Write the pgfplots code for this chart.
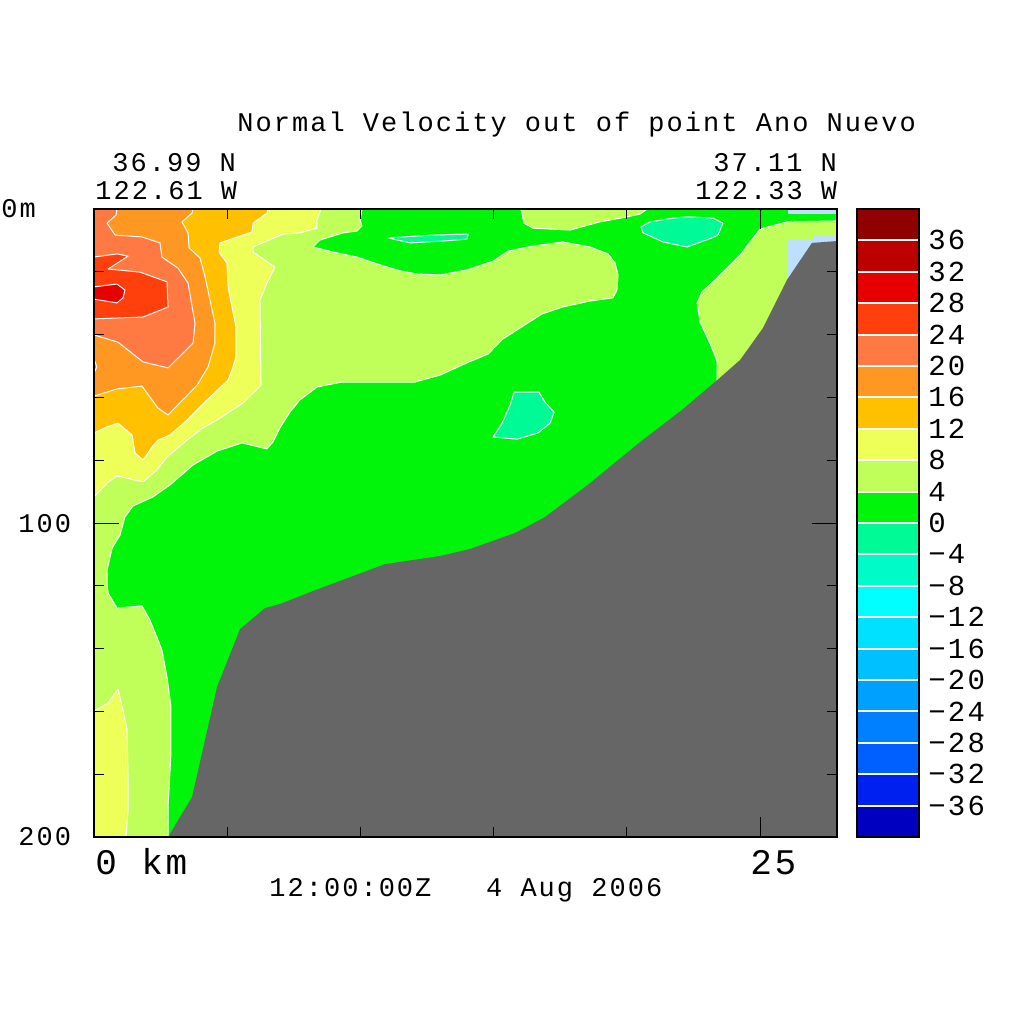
\documentclass[border=0pt]{standalone}
\usepackage{fontspec}
\setmainfont{Liberation Mono}[LetterSpace=7.5]
\usepackage{pgfplots}
\pgfplotsset{compat=1.18}
\definecolor{c36}{HTML}{900000}
\definecolor{c32}{HTML}{BC0000}
\definecolor{c28}{HTML}{E60000}
\definecolor{c24}{HTML}{FF3F0C}
\definecolor{c20}{HTML}{FF7A42}
\definecolor{c16}{HTML}{FF9822}
\definecolor{c12}{HTML}{FFC000}
\definecolor{c8}{HTML}{EFFF5A}
\definecolor{c4}{HTML}{C0FF5A}
\definecolor{c0}{HTML}{00F50A}
\definecolor{m4}{HTML}{00FA96}
\definecolor{m8}{HTML}{00FAC8}
\definecolor{m12}{HTML}{00FFFF}
\definecolor{m16}{HTML}{00E0FF}
\definecolor{m20}{HTML}{00C0FF}
\definecolor{m24}{HTML}{00A0FF}
\definecolor{m28}{HTML}{0080FF}
\definecolor{m32}{HTML}{0060FF}
\definecolor{m36}{HTML}{0020F0}
\definecolor{m40}{HTML}{0000C0}
\definecolor{terrain}{HTML}{666666}
\definecolor{paleblue}{HTML}{BFDFFF}
\newcommand\fa{\fontsize{13.5}{13.5}\selectfont}
\newcommand\fb{\fontsize{14.5}{14.5}\selectfont}
\newcommand\fc{\fontsize{18}{18}\selectfont}
\pgfplotsset{
  lev/.style={fill=#1,draw=white,line width=0.5pt,line join=round},
  flat/.style={fill=#1,draw=none},
  bar/.style={fill=#1,draw=white,line width=1pt}
}
\begin{document}
\begin{tikzpicture}
\useasboundingbox (0,0) rectangle (512pt,512pt);
\begin{axis}[
  at={(47pt,93.5pt)},anchor=south west,
  scale only axis,width=371.5pt,height=314pt,
  xmin=0,xmax=27.89,ymin=0,ymax=200,y dir=reverse,
  axis on top,
  axis line style={line width=1pt},
  tick style={black,line width=0.5pt},
  tick align=inside,tick pos=both,
  major tick length=5pt,
  xtick={5,10,15,20},ytick={20,40,60,80,120,140,160,180},
  xticklabels={},yticklabels={},
  extra x ticks={25},extra x tick labels={},
  extra x tick style={major tick length=10pt},
  extra y ticks={100},extra y tick labels={},
  extra y tick style={major tick length=12.5pt},
]
% base level 0..4
\addplot[flat=c0] coordinates {(0,0)(27.89,0)(27.89,200)(0,200)} --cycle;
% 4..8 main
\addplot[lev=c4] coordinates {(10.06,0)(9.99,3.5)(10.06,5.4)(9.87,7.0)(9.35,7.6)(8.48,9.9)(8.22,12.1)(8.97,13.7)(9.87,15.3)(10.74,17.8)(11.49,19.7)(12.12,20.7)(12.99,21.0)(14.00,19.4)(14.98,16.6)(15.54,13.4)(16.48,11.8)(17.60,10.5)(18.62,12.1)(19.29,14.3)(19.56,17.2)(19.67,21.0)(19.63,25.8)(19.48,28.3)(18.62,29.3)(17.60,31.2)(16.82,33.4)(15.99,37.9)(15.35,41.4)(14.79,46.2)(14.00,49.0)(12.99,52.9)(12.05,55.1)(9.31,55.1)(8.37,56.7)(7.73,60.8)(7.36,64.6)(6.98,69.7)(6.72,74.2)(6.49,76.4)(5.56,74.5)(4.62,77.1)(3.72,81.5)(2.85,87.9)(2.21,91.7)(1.46,94.6)(1.16,98.1)(0.98,103.8)(0.68,108.0)(0.49,115.0)(0.49,119.1)(0.53,122.3)(0.86,127.1)(1.80,126.4)(2.10,130.9)(2.55,140.4)(2.74,149.0)(2.89,158.6)(2.89,173.2)(2.78,190.4)(2.78,200)(0,200)(0,0)} --cycle;
% 4..8 top
\addplot[lev=c4] coordinates {(16.03,0)(16.14,4.5)(16.48,6.1)(17.87,6.7)(18.99,4.1)(20.01,2.5)(20.50,1.6)(20.76,0)} --cycle;
% 4..8 right
\addplot[lev=c4] coordinates {(23.39,60.8)(23.39,48.4)(23.12,42.7)(22.75,36.0)(22.64,29.9)(22.82,26.4)(23.31,22.6)(24.25,14.7)(25.00,6.4)(26.01,4.1)(27.89,3.8)(27.89,60.8)} --cycle;
% 8..12
\addplot[lev=c8] coordinates {(8.52,0)(8.37,3.5)(8.37,6.1)(7.73,7.6)(7.09,8.0)(5.97,12.1)(5.97,13.7)(6.79,18.5)(6.49,23.6)(6.23,29.0)(6.27,56.1)(5.97,58.6)(5.59,61.8)(4.62,67.2)(4.09,69.7)(3.49,73.6)(2.74,79.0)(2.36,83.1)(1.84,86.9)(0.86,85.0)(0.49,87.3)(0,91.7)(0,0)} --cycle;
\addplot[lev=c8] coordinates {(0,159.9)(0.53,157.3)(0.90,152.9)(1.09,159.6)(1.24,165.9)(1.28,181.8)(1.28,191.4)(1.20,200)(0,200)} --cycle;
% 12..16
\addplot[lev=c12] coordinates {(6.53,0)(6.49,1.3)(5.97,4.5)(5.93,7.3)(4.73,10.8)(4.69,13.7)(4.99,17.2)(5.03,24.8)(5.33,37.6)(5.33,47.1)(5.18,51.3)(5.03,54.5)(4.24,60.8)(3.49,67.2)(2.85,72.0)(2.40,73.6)(2.18,75.8)(1.84,79.9)(1.54,77.7)(1.43,72.0)(0.90,68.2)(0.49,69.4)(0,71.3)(0,0)} --cycle;
% 16..20
\addplot[lev=c16] coordinates {(3.72,0)(3.68,1.3)(3.30,4.1)(3.53,7.6)(3.57,12.4)(3.98,15.6)(4.17,21.7)(4.54,36.3)(4.54,42.7)(4.28,50.3)(3.87,56.1)(2.78,65.6)(2.40,63.4)(1.80,56.4)(0.86,57.3)(0,59.6)(0,0)} --cycle;
% 20..24
\addplot[lev=c20] coordinates {(0.86,0)(0.83,1.9)(0.49,4.5)(0.79,8.3)(1.80,8.9)(2.48,10.8)(2.55,15.3)(3.15,18.8)(3.53,23.6)(3.79,36.3)(3.72,42.7)(2.78,50.6)(1.84,48.7)(0.90,42.4)(0,40.1)(0,0)} --cycle;
\addplot[lev=c20] coordinates {(0,47.8)(0.11,50.3)(0,52.2)} --cycle;
% 24..28
\addplot[lev=c24] coordinates {(0,15.3)(0.86,14.3)(1.28,15.0)(0.53,19.1)(1.73,20.1)(2.74,23.2)(2.78,31.2)(1.84,34.4)(0,35.0)} --cycle;
% 28..32
\addplot[lev=c28] coordinates {(0,24.8)(0.86,23.9)(1.16,25.8)(1.09,28.3)(0.86,29.9)(0,28.7)} --cycle;
% -4..0
\addplot[lev=m4] coordinates {(20.53,5.7)(20.87,4.1)(21.73,2.9)(22.30,2.5)(23.24,2.9)(23.61,4.5)(23.42,8.3)(23.20,9.2)(22.26,12.1)(21.36,10.5)(20.61,7.6)} --cycle;
\addplot[lev=m4] coordinates {(11.04,9.2)(12.73,8.3)(14.04,8.0)(14.00,9.6)(13.10,10.2)(11.86,10.8)} --cycle;
\addplot[lev=m4] coordinates {(15.77,58.3)(16.70,58.3)(16.93,61.5)(17.27,64.7)(17.12,68.2)(16.67,71.3)(15.88,73.3)(14.98,72.6)(15.32,68.2)(15.62,62.4)} --cycle;
% pale blue (near-shore cells)
\addplot[flat=paleblue] coordinates {(26.05,0)(27.89,0)(27.89,1.6)(26.05,1.6)} --cycle;
\addplot[flat=paleblue] coordinates {(26.05,9.6)(26.99,9.6)(26.99,8.3)(27.89,8.3)(27.89,25.8)(26.05,25.8)} --cycle;
% terrain
\addplot[flat=terrain] coordinates {(2.78,200)(3.68,187.3)(4.62,152.2)(5.48,133.8)(6.42,127.1)(6.98,125.8)(8.33,121.3)(10.92,113.1)(12.99,110.5)(14.11,108.3)(15.80,103.2)(16.93,98.1)(18.62,87.3)(20.50,74.2)(22.07,64.0)(23.39,54.5)(24.25,48.1)(25.11,37.9)(26.01,22.6)(26.95,10.8)(27.89,10.2)(27.89,200)} --cycle;
\end{axis}
\begin{axis}[
  at={(428.5pt,93.5pt)},anchor=south west,
  scale only axis,width=31pt,height=314pt,
  xmin=0,xmax=1,ymin=-40,ymax=40,
  axis on top,
  axis line style={line width=1pt},
  xtick=\empty,
  ytick={-36,-32,-28,-24,-20,-16,-12,-8,-4,0,4,8,12,16,20,24,28,32,36},
  yticklabels={−36,−32,−28,−24,−20,−16,−12,−8,−4,0,4,8,12,16,20,24,28,32,36},
  tick pos=right,yticklabel pos=right,
  major tick length=0pt,
  yticklabel style={anchor=west,inner sep=0pt,xshift=4.5pt,font=\fb},
]
\addplot[bar=c36] coordinates {(0,36)(1,36)(1,40)(0,40)} --cycle;
\addplot[bar=c32] coordinates {(0,32)(1,32)(1,36)(0,36)} --cycle;
\addplot[bar=c28] coordinates {(0,28)(1,28)(1,32)(0,32)} --cycle;
\addplot[bar=c24] coordinates {(0,24)(1,24)(1,28)(0,28)} --cycle;
\addplot[bar=c20] coordinates {(0,20)(1,20)(1,24)(0,24)} --cycle;
\addplot[bar=c16] coordinates {(0,16)(1,16)(1,20)(0,20)} --cycle;
\addplot[bar=c12] coordinates {(0,12)(1,12)(1,16)(0,16)} --cycle;
\addplot[bar=c8] coordinates {(0,8)(1,8)(1,12)(0,12)} --cycle;
\addplot[bar=c4] coordinates {(0,4)(1,4)(1,8)(0,8)} --cycle;
\addplot[bar=c0] coordinates {(0,0)(1,0)(1,4)(0,4)} --cycle;
\addplot[bar=m4] coordinates {(0,-4)(1,-4)(1,0)(0,0)} --cycle;
\addplot[bar=m8] coordinates {(0,-8)(1,-8)(1,-4)(0,-4)} --cycle;
\addplot[bar=m12] coordinates {(0,-12)(1,-12)(1,-8)(0,-8)} --cycle;
\addplot[bar=m16] coordinates {(0,-16)(1,-16)(1,-12)(0,-12)} --cycle;
\addplot[bar=m20] coordinates {(0,-20)(1,-20)(1,-16)(0,-16)} --cycle;
\addplot[bar=m24] coordinates {(0,-24)(1,-24)(1,-20)(0,-20)} --cycle;
\addplot[bar=m28] coordinates {(0,-28)(1,-28)(1,-24)(0,-24)} --cycle;
\addplot[bar=m32] coordinates {(0,-32)(1,-32)(1,-28)(0,-28)} --cycle;
\addplot[bar=m36] coordinates {(0,-36)(1,-36)(1,-32)(0,-32)} --cycle;
\addplot[bar=m40] coordinates {(0,-40)(1,-40)(1,-36)(0,-36)} --cycle;
\end{axis}
\tikzset{every node/.style={inner sep=0pt,anchor=base west}}
\node[font=\fa] at (118.5pt,446pt) {Normal Velocity out of point Ano Nuevo};
\node[font=\fa] at (56pt,426pt) {36.99 N};
\node[font=\fa] at (47.5pt,412pt) {122.61 W};
\node[font=\fa] at (356.5pt,426pt) {37.11 N};
\node[font=\fa] at (347.5pt,412pt) {122.33 W};
\node[font=\fa] at (0.5pt,403pt) {0m};
\node[font=\fa] at (9pt,245.5pt) {100};
\node[font=\fa] at (9pt,89pt) {200};
\node[font=\fc] at (47.5pt,74.5pt) {0 km};
\node[font=\fc] at (375pt,74.5pt) {25};
\node[font=\fa] at (134.5pt,63.5pt) {12:00:00Z\ \ \ 4 Aug 2006};
\end{tikzpicture}
\end{document}
